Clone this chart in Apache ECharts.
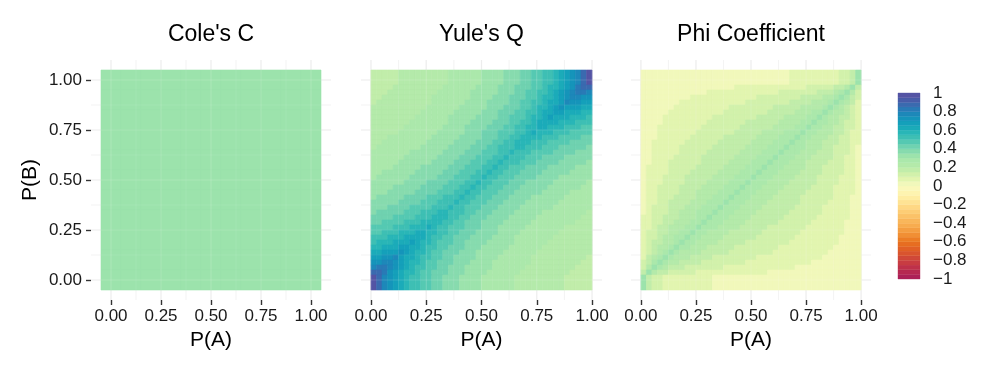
<!DOCTYPE html>
<html><head><meta charset="utf-8">
<script src="https://cdn.jsdelivr.net/npm/echarts@6/dist/echarts.min.js"></script>
<style>html,body{margin:0;padding:0;background:#fff}#c{width:997px;height:382px}</style>
</head><body><div id="c"></div>
<script>
// ---------- data ----------
const panelTitles = ["Cole's C", "Yule's Q", "Phi Coefficient"];
// cell centres (P(A) and P(B)) for Yule's Q and Phi
const pGrid = [0.0125,0.0375,0.0625,0.0875,0.1125,0.1375,0.1625,0.1875,0.2125,0.2375,0.2625,0.2875,0.3125,0.3375,0.3625,0.3875,0.4125,0.4375,0.4625,0.4875,
               0.5125,0.5375,0.5625,0.5875,0.6125,0.6375,0.6625,0.6875,0.7125,0.7375,0.7625,0.7875,0.8125,0.8375,0.8625,0.8875,0.9125,0.9375,0.9625,0.9875];
// cell centres for Cole's C
const coleGrid = [0,0.1,0.2,0.3,0.4,0.5,0.6,0.7,0.8,0.9,1];
// rows listed from top (P(B) high) to bottom (P(B) low); columns P(A) low -> high
const colesC = [
[0.3,0.3,0.3,0.3,0.3,0.3,0.3,0.3,0.3,0.3,0.3],
[0.3,0.3,0.3,0.3,0.3,0.3,0.3,0.3,0.3,0.3,0.3],
[0.3,0.3,0.3,0.3,0.3,0.3,0.3,0.3,0.3,0.3,0.3],
[0.3,0.3,0.3,0.3,0.3,0.3,0.3,0.3,0.3,0.3,0.3],
[0.3,0.3,0.3,0.3,0.3,0.3,0.3,0.3,0.3,0.3,0.3],
[0.3,0.3,0.3,0.3,0.3,0.3,0.3,0.3,0.3,0.3,0.3],
[0.3,0.3,0.3,0.3,0.3,0.3,0.3,0.3,0.3,0.3,0.3],
[0.3,0.3,0.3,0.3,0.3,0.3,0.3,0.3,0.3,0.3,0.3],
[0.3,0.3,0.3,0.3,0.3,0.3,0.3,0.3,0.3,0.3,0.3],
[0.3,0.3,0.3,0.3,0.3,0.3,0.3,0.3,0.3,0.3,0.3],
[0.3,0.3,0.3,0.3,0.3,0.3,0.3,0.3,0.3,0.3,0.3]
];
// values are the lower edge of the 0.05-wide colour band read at each cell
const yulesQ = [
[.15,.15,.15,.15,.15,.20,.20,.20,.20,.20,.20,.20,.20,.20,.25,.25,.25,.25,.25,.25,.30,.30,.30,.30,.35,.35,.35,.40,.40,.45,.45,.50,.50,.55,.60,.65,.70,.75,.85,.95],
[.15,.15,.15,.15,.20,.20,.20,.20,.20,.20,.20,.20,.20,.25,.25,.25,.25,.25,.25,.30,.30,.30,.30,.35,.35,.35,.40,.40,.40,.45,.45,.50,.55,.55,.60,.65,.70,.80,.85,.85],
[.15,.15,.15,.20,.20,.20,.20,.20,.20,.20,.20,.20,.25,.25,.25,.25,.25,.25,.30,.30,.30,.30,.30,.35,.35,.35,.40,.40,.45,.45,.50,.50,.55,.60,.65,.70,.75,.80,.80,.75],
[.15,.15,.20,.20,.20,.20,.20,.20,.20,.20,.20,.25,.25,.25,.25,.25,.25,.25,.30,.30,.30,.30,.35,.35,.35,.40,.40,.40,.45,.45,.50,.55,.55,.60,.65,.70,.75,.75,.70,.70],
[.15,.20,.20,.20,.20,.20,.20,.20,.20,.20,.20,.25,.25,.25,.25,.25,.25,.30,.30,.30,.30,.35,.35,.35,.35,.40,.40,.45,.45,.50,.50,.55,.60,.60,.65,.75,.70,.70,.65,.65],
[.20,.20,.20,.20,.20,.20,.20,.20,.20,.20,.25,.25,.25,.25,.25,.25,.30,.30,.30,.30,.30,.35,.35,.35,.40,.40,.40,.45,.45,.50,.55,.55,.60,.65,.70,.65,.65,.65,.60,.60],
[.20,.20,.20,.20,.20,.20,.20,.20,.20,.25,.25,.25,.25,.25,.25,.30,.30,.30,.30,.30,.35,.35,.35,.40,.40,.40,.45,.45,.50,.50,.55,.60,.60,.65,.65,.60,.60,.60,.55,.55],
[.20,.20,.20,.20,.20,.20,.20,.20,.25,.25,.25,.25,.25,.25,.30,.30,.30,.30,.30,.35,.35,.35,.35,.40,.40,.45,.45,.45,.50,.55,.55,.60,.65,.60,.60,.60,.55,.55,.55,.50],
[.20,.20,.20,.20,.20,.20,.20,.25,.25,.25,.25,.25,.25,.25,.30,.30,.30,.30,.35,.35,.35,.35,.40,.40,.40,.45,.45,.50,.50,.55,.60,.60,.60,.60,.55,.55,.55,.50,.50,.50],
[.20,.20,.20,.20,.20,.20,.25,.25,.25,.25,.25,.25,.25,.30,.30,.30,.30,.35,.35,.35,.35,.40,.40,.40,.45,.45,.50,.50,.55,.55,.60,.60,.55,.55,.55,.50,.50,.50,.45,.45],
[.20,.20,.20,.20,.20,.25,.25,.25,.25,.25,.25,.25,.30,.30,.30,.30,.30,.35,.35,.35,.40,.40,.40,.45,.45,.45,.50,.50,.55,.60,.55,.55,.55,.50,.50,.50,.45,.45,.45,.45],
[.20,.20,.20,.25,.25,.25,.25,.25,.25,.25,.25,.30,.30,.30,.30,.30,.35,.35,.35,.35,.40,.40,.40,.45,.45,.50,.50,.55,.55,.55,.55,.50,.50,.50,.45,.45,.45,.45,.40,.40],
[.20,.20,.25,.25,.25,.25,.25,.25,.25,.25,.30,.30,.30,.30,.30,.35,.35,.35,.35,.40,.40,.40,.45,.45,.50,.50,.55,.55,.55,.50,.50,.50,.45,.45,.45,.45,.40,.40,.40,.40],
[.20,.25,.25,.25,.25,.25,.25,.25,.25,.30,.30,.30,.30,.30,.35,.35,.35,.35,.40,.40,.40,.45,.45,.50,.50,.50,.55,.55,.50,.50,.50,.45,.45,.45,.40,.40,.40,.40,.40,.35],
[.25,.25,.25,.25,.25,.25,.25,.30,.30,.30,.30,.30,.30,.35,.35,.35,.35,.40,.40,.40,.45,.45,.45,.50,.50,.55,.50,.50,.50,.45,.45,.45,.45,.40,.40,.40,.40,.35,.35,.35],
[.25,.25,.25,.25,.25,.25,.30,.30,.30,.30,.30,.30,.35,.35,.35,.35,.40,.40,.40,.45,.45,.45,.50,.50,.55,.50,.50,.50,.45,.45,.45,.40,.40,.40,.40,.35,.35,.35,.35,.35],
[.25,.25,.25,.25,.25,.30,.30,.30,.30,.30,.30,.35,.35,.35,.35,.40,.40,.40,.45,.45,.45,.50,.50,.55,.50,.50,.50,.45,.45,.45,.40,.40,.40,.40,.35,.35,.35,.35,.35,.30],
[.25,.25,.25,.25,.30,.30,.30,.30,.30,.35,.35,.35,.35,.35,.40,.40,.40,.45,.45,.45,.50,.50,.55,.50,.50,.45,.45,.45,.40,.40,.40,.40,.35,.35,.35,.35,.35,.30,.30,.30],
[.25,.25,.30,.30,.30,.30,.30,.30,.35,.35,.35,.35,.35,.40,.40,.40,.45,.45,.45,.50,.50,.55,.50,.50,.45,.45,.45,.40,.40,.40,.40,.35,.35,.35,.35,.35,.30,.30,.30,.30],
[.25,.30,.30,.30,.30,.30,.30,.35,.35,.35,.35,.35,.40,.40,.40,.45,.45,.45,.50,.50,.55,.50,.50,.45,.45,.45,.40,.40,.40,.40,.35,.35,.35,.35,.30,.30,.30,.30,.30,.30],
[.30,.30,.30,.30,.30,.30,.35,.35,.35,.35,.40,.40,.40,.40,.45,.45,.45,.50,.50,.55,.50,.50,.45,.45,.45,.40,.40,.40,.35,.35,.35,.35,.35,.30,.30,.30,.30,.30,.30,.25],
[.30,.30,.30,.30,.35,.35,.35,.35,.35,.40,.40,.40,.40,.45,.45,.45,.50,.50,.55,.50,.50,.45,.45,.45,.40,.40,.40,.35,.35,.35,.35,.35,.30,.30,.30,.30,.30,.30,.25,.25],
[.30,.30,.30,.35,.35,.35,.35,.35,.40,.40,.40,.40,.45,.45,.45,.50,.50,.55,.50,.50,.45,.45,.45,.40,.40,.40,.35,.35,.35,.35,.35,.30,.30,.30,.30,.30,.25,.25,.25,.25],
[.30,.35,.35,.35,.35,.35,.40,.40,.40,.40,.45,.45,.45,.50,.50,.50,.55,.50,.50,.45,.45,.45,.40,.40,.40,.35,.35,.35,.35,.30,.30,.30,.30,.30,.30,.25,.25,.25,.25,.25],
[.35,.35,.35,.35,.35,.40,.40,.40,.40,.45,.45,.45,.50,.50,.50,.55,.50,.50,.45,.45,.45,.40,.40,.40,.35,.35,.35,.35,.30,.30,.30,.30,.30,.30,.25,.25,.25,.25,.25,.25],
[.35,.35,.35,.40,.40,.40,.40,.45,.45,.45,.45,.50,.50,.50,.55,.50,.50,.45,.45,.45,.40,.40,.40,.35,.35,.35,.35,.30,.30,.30,.30,.30,.30,.25,.25,.25,.25,.25,.25,.25],
[.35,.40,.40,.40,.40,.40,.45,.45,.45,.50,.50,.50,.55,.55,.50,.50,.50,.45,.45,.40,.40,.40,.35,.35,.35,.35,.30,.30,.30,.30,.30,.25,.25,.25,.25,.25,.25,.25,.25,.20],
[.40,.40,.40,.40,.45,.45,.45,.45,.50,.50,.50,.55,.55,.55,.50,.50,.45,.45,.40,.40,.40,.35,.35,.35,.35,.30,.30,.30,.30,.30,.25,.25,.25,.25,.25,.25,.25,.25,.20,.20],
[.40,.40,.45,.45,.45,.45,.50,.50,.50,.55,.55,.55,.55,.50,.50,.45,.45,.40,.40,.40,.35,.35,.35,.35,.30,.30,.30,.30,.30,.25,.25,.25,.25,.25,.25,.25,.25,.20,.20,.20],
[.45,.45,.45,.45,.50,.50,.50,.55,.55,.55,.60,.55,.50,.50,.45,.45,.45,.40,.40,.40,.35,.35,.35,.30,.30,.30,.30,.30,.25,.25,.25,.25,.25,.25,.25,.20,.20,.20,.20,.20],
[.45,.45,.50,.50,.50,.55,.55,.55,.60,.60,.55,.55,.50,.50,.45,.45,.40,.40,.40,.35,.35,.35,.35,.30,.30,.30,.30,.25,.25,.25,.25,.25,.25,.25,.20,.20,.20,.20,.20,.20],
[.50,.50,.50,.55,.55,.55,.60,.60,.60,.60,.55,.50,.50,.45,.45,.40,.40,.40,.35,.35,.35,.35,.30,.30,.30,.30,.25,.25,.25,.25,.25,.25,.25,.20,.20,.20,.20,.20,.20,.20],
[.50,.55,.55,.55,.60,.60,.60,.65,.60,.55,.55,.50,.45,.45,.45,.40,.40,.35,.35,.35,.35,.30,.30,.30,.30,.30,.25,.25,.25,.25,.25,.25,.20,.20,.20,.20,.20,.20,.20,.20],
[.55,.55,.60,.60,.60,.65,.65,.60,.60,.55,.50,.50,.45,.45,.40,.40,.40,.35,.35,.35,.30,.30,.30,.30,.30,.25,.25,.25,.25,.25,.25,.20,.20,.20,.20,.20,.20,.20,.20,.20],
[.60,.60,.65,.65,.65,.70,.65,.60,.55,.55,.50,.45,.45,.40,.40,.40,.35,.35,.35,.30,.30,.30,.30,.30,.25,.25,.25,.25,.25,.25,.20,.20,.20,.20,.20,.20,.20,.20,.20,.20],
[.65,.65,.70,.70,.75,.65,.60,.60,.55,.50,.50,.45,.45,.40,.40,.35,.35,.35,.35,.30,.30,.30,.30,.25,.25,.25,.25,.25,.25,.20,.20,.20,.20,.20,.20,.20,.20,.20,.20,.15],
[.70,.70,.75,.75,.70,.65,.60,.55,.55,.50,.45,.45,.40,.40,.40,.35,.35,.35,.30,.30,.30,.30,.25,.25,.25,.25,.25,.25,.25,.20,.20,.20,.20,.20,.20,.20,.20,.20,.15,.15],
[.75,.80,.80,.75,.70,.65,.60,.55,.50,.50,.45,.45,.40,.40,.35,.35,.35,.30,.30,.30,.30,.30,.25,.25,.25,.25,.25,.25,.20,.20,.20,.20,.20,.20,.20,.20,.20,.15,.15,.15],
[.85,.85,.80,.70,.65,.60,.55,.55,.50,.45,.45,.40,.40,.40,.35,.35,.35,.30,.30,.30,.30,.25,.25,.25,.25,.25,.25,.20,.20,.20,.20,.20,.20,.20,.20,.20,.15,.15,.15,.15],
[.95,.85,.75,.70,.65,.60,.55,.50,.50,.45,.45,.40,.40,.35,.35,.35,.30,.30,.30,.30,.25,.25,.25,.25,.25,.25,.20,.20,.20,.20,.20,.20,.20,.20,.20,.15,.15,.15,.15,.15]
];
const phiCoef = [
[0,0,0,0,0,0,0,0,0,0,0,0,0,0,0,0,0,0,0,0,0,0,0,0,0,0,0,.05,.05,.05,.05,.05,.05,.05,.05,.05,.10,.10,.15,.30],
[0,0,0,0,0,0,0,0,0,0,0,0,0,0,0,0,0,.05,.05,.05,.05,.05,.05,.05,.05,.05,.05,.05,.05,.05,.10,.10,.10,.10,.10,.15,.15,.20,.30,.15],
[0,0,0,0,0,0,0,0,0,0,0,0,.05,.05,.05,.05,.05,.05,.05,.05,.05,.05,.05,.05,.05,.10,.10,.10,.10,.10,.10,.10,.15,.15,.15,.20,.25,.30,.20,.10],
[0,0,0,0,0,0,0,0,0,.05,.05,.05,.05,.05,.05,.05,.05,.05,.05,.05,.05,.10,.10,.10,.10,.10,.10,.10,.10,.15,.15,.15,.15,.20,.20,.25,.30,.25,.15,.10],
[0,0,0,0,0,0,0,.05,.05,.05,.05,.05,.05,.05,.05,.05,.05,.05,.05,.10,.10,.10,.10,.10,.10,.10,.10,.15,.15,.15,.15,.20,.20,.20,.25,.30,.25,.20,.15,.05],
[0,0,0,0,0,0,.05,.05,.05,.05,.05,.05,.05,.05,.05,.05,.10,.10,.10,.10,.10,.10,.10,.10,.15,.15,.15,.15,.15,.20,.20,.20,.20,.25,.30,.25,.20,.15,.10,.05],
[0,0,0,0,0,.05,.05,.05,.05,.05,.05,.05,.05,.05,.05,.10,.10,.10,.10,.10,.10,.10,.10,.15,.15,.15,.15,.15,.20,.20,.20,.25,.25,.30,.25,.20,.20,.15,.10,.05],
[0,0,0,0,.05,.05,.05,.05,.05,.05,.05,.05,.05,.10,.10,.10,.10,.10,.10,.10,.10,.15,.15,.15,.15,.15,.20,.20,.20,.20,.25,.25,.30,.25,.20,.20,.15,.15,.10,.05],
[0,0,0,0,.05,.05,.05,.05,.05,.05,.05,.05,.10,.10,.10,.10,.10,.10,.10,.15,.15,.15,.15,.15,.15,.20,.20,.20,.20,.25,.25,.30,.25,.25,.20,.20,.15,.10,.10,.05],
[0,0,0,.05,.05,.05,.05,.05,.05,.05,.05,.10,.10,.10,.10,.10,.10,.10,.15,.15,.15,.15,.15,.15,.20,.20,.20,.20,.25,.25,.30,.25,.25,.20,.20,.15,.15,.10,.10,.05],
[0,0,0,.05,.05,.05,.05,.05,.05,.05,.10,.10,.10,.10,.10,.10,.10,.15,.15,.15,.15,.15,.20,.20,.20,.20,.25,.25,.25,.30,.25,.25,.20,.20,.20,.15,.15,.10,.05,.05],
[0,0,0,.05,.05,.05,.05,.05,.05,.10,.10,.10,.10,.10,.10,.15,.15,.15,.15,.15,.15,.20,.20,.20,.20,.25,.25,.25,.30,.25,.25,.20,.20,.20,.15,.15,.10,.10,.05,.05],
[0,0,.05,.05,.05,.05,.05,.05,.10,.10,.10,.10,.10,.10,.15,.15,.15,.15,.15,.15,.20,.20,.20,.20,.25,.25,.25,.30,.25,.25,.20,.20,.20,.15,.15,.15,.10,.10,.05,.05],
[0,0,.05,.05,.05,.05,.05,.10,.10,.10,.10,.10,.10,.15,.15,.15,.15,.15,.15,.20,.20,.20,.20,.25,.25,.25,.30,.25,.25,.25,.20,.20,.20,.15,.15,.10,.10,.10,.05,0],
[0,0,.05,.05,.05,.05,.05,.10,.10,.10,.10,.10,.15,.15,.15,.15,.15,.15,.20,.20,.20,.20,.25,.25,.25,.30,.25,.25,.25,.20,.20,.20,.15,.15,.15,.10,.10,.10,.05,0],
[0,0,.05,.05,.05,.05,.10,.10,.10,.10,.10,.15,.15,.15,.15,.15,.15,.20,.20,.20,.20,.25,.25,.25,.30,.25,.25,.25,.20,.20,.20,.15,.15,.15,.15,.10,.10,.05,.05,0],
[0,0,.05,.05,.05,.10,.10,.10,.10,.10,.10,.15,.15,.15,.15,.15,.20,.20,.20,.20,.25,.25,.25,.30,.25,.25,.25,.20,.20,.20,.15,.15,.15,.15,.10,.10,.10,.05,.05,0],
[0,.05,.05,.05,.05,.10,.10,.10,.10,.10,.15,.15,.15,.15,.15,.20,.20,.20,.20,.25,.25,.25,.30,.25,.25,.25,.20,.20,.20,.20,.15,.15,.15,.10,.10,.10,.10,.05,.05,0],
[0,.05,.05,.05,.05,.10,.10,.10,.10,.15,.15,.15,.15,.15,.20,.20,.20,.20,.25,.25,.25,.30,.25,.25,.25,.20,.20,.20,.20,.15,.15,.15,.15,.10,.10,.10,.10,.05,.05,0],
[0,.05,.05,.05,.10,.10,.10,.10,.15,.15,.15,.15,.15,.20,.20,.20,.20,.25,.25,.25,.30,.25,.25,.25,.20,.20,.20,.20,.15,.15,.15,.15,.10,.10,.10,.10,.05,.05,.05,0],
[0,.05,.05,.05,.10,.10,.10,.10,.15,.15,.15,.15,.20,.20,.20,.20,.25,.25,.25,.30,.25,.25,.25,.20,.20,.20,.20,.15,.15,.15,.15,.15,.10,.10,.10,.10,.05,.05,.05,0],
[0,.05,.05,.10,.10,.10,.10,.15,.15,.15,.15,.20,.20,.20,.20,.25,.25,.25,.30,.25,.25,.25,.20,.20,.20,.20,.15,.15,.15,.15,.15,.10,.10,.10,.10,.05,.05,.05,.05,0],
[0,.05,.05,.10,.10,.10,.10,.15,.15,.15,.20,.20,.20,.20,.25,.25,.25,.30,.25,.25,.25,.20,.20,.20,.20,.15,.15,.15,.15,.15,.10,.10,.10,.10,.10,.05,.05,.05,.05,0],
[0,.05,.05,.10,.10,.10,.15,.15,.15,.15,.20,.20,.20,.25,.25,.25,.30,.25,.25,.25,.20,.20,.20,.20,.15,.15,.15,.15,.15,.10,.10,.10,.10,.10,.10,.05,.05,.05,0,0],
[0,.05,.05,.10,.10,.15,.15,.15,.15,.20,.20,.20,.25,.25,.25,.30,.25,.25,.25,.20,.20,.20,.20,.15,.15,.15,.15,.15,.15,.10,.10,.10,.10,.10,.05,.05,.05,.05,0,0],
[0,.05,.10,.10,.10,.15,.15,.15,.20,.20,.20,.25,.25,.25,.30,.25,.25,.25,.20,.20,.20,.20,.15,.15,.15,.15,.15,.15,.10,.10,.10,.10,.10,.05,.05,.05,.05,.05,0,0],
[0,.05,.10,.10,.10,.15,.15,.20,.20,.20,.25,.25,.25,.30,.25,.25,.25,.20,.20,.20,.20,.15,.15,.15,.15,.15,.15,.10,.10,.10,.10,.10,.10,.05,.05,.05,.05,.05,0,0],
[.05,.05,.10,.10,.15,.15,.15,.20,.20,.20,.25,.25,.30,.25,.25,.25,.20,.20,.20,.20,.15,.15,.15,.15,.15,.15,.10,.10,.10,.10,.10,.10,.05,.05,.05,.05,.05,.05,0,0],
[.05,.05,.10,.10,.15,.15,.20,.20,.20,.25,.25,.30,.25,.25,.25,.20,.20,.20,.20,.15,.15,.15,.15,.15,.15,.10,.10,.10,.10,.10,.10,.05,.05,.05,.05,.05,.05,0,0,0],
[.05,.05,.10,.15,.15,.20,.20,.20,.25,.25,.30,.25,.25,.25,.20,.20,.20,.20,.15,.15,.15,.15,.15,.10,.10,.10,.10,.10,.10,.10,.05,.05,.05,.05,.05,.05,.05,0,0,0],
[.05,.10,.10,.15,.15,.20,.20,.25,.25,.30,.25,.25,.20,.20,.20,.20,.15,.15,.15,.15,.15,.15,.10,.10,.10,.10,.10,.10,.10,.05,.05,.05,.05,.05,.05,.05,.05,0,0,0],
[.05,.10,.10,.15,.20,.20,.25,.25,.30,.25,.25,.20,.20,.20,.20,.15,.15,.15,.15,.15,.15,.10,.10,.10,.10,.10,.10,.10,.05,.05,.05,.05,.05,.05,.05,.05,0,0,0,0],
[.05,.10,.15,.15,.20,.20,.25,.30,.25,.25,.20,.20,.20,.20,.15,.15,.15,.15,.15,.10,.10,.10,.10,.10,.10,.10,.10,.05,.05,.05,.05,.05,.05,.05,.05,.05,0,0,0,0],
[.05,.10,.15,.20,.20,.25,.30,.25,.25,.20,.20,.20,.15,.15,.15,.15,.15,.10,.10,.10,.10,.10,.10,.10,.10,.05,.05,.05,.05,.05,.05,.05,.05,.05,.05,0,0,0,0,0],
[.05,.10,.15,.20,.25,.30,.25,.20,.20,.20,.20,.15,.15,.15,.15,.15,.10,.10,.10,.10,.10,.10,.10,.10,.05,.05,.05,.05,.05,.05,.05,.05,.05,.05,0,0,0,0,0,0],
[.05,.15,.20,.25,.30,.25,.20,.20,.20,.15,.15,.15,.15,.10,.10,.10,.10,.10,.10,.10,.10,.05,.05,.05,.05,.05,.05,.05,.05,.05,.05,.05,.05,0,0,0,0,0,0,0],
[.10,.15,.25,.30,.25,.20,.20,.15,.15,.15,.15,.10,.10,.10,.10,.10,.10,.10,.10,.05,.05,.05,.05,.05,.05,.05,.05,.05,.05,.05,.05,0,0,0,0,0,0,0,0,0],
[.10,.20,.30,.25,.20,.15,.15,.15,.10,.10,.10,.10,.10,.10,.10,.05,.05,.05,.05,.05,.05,.05,.05,.05,.05,.05,.05,.05,0,0,0,0,0,0,0,0,0,0,0,0],
[.15,.30,.20,.15,.15,.10,.10,.10,.10,.10,.05,.05,.05,.05,.05,.05,.05,.05,.05,.05,.05,.05,.05,0,0,0,0,0,0,0,0,0,0,0,0,0,0,0,0,0],
[.30,.15,.10,.10,.05,.05,.05,.05,.05,.05,.05,.05,.05,0,0,0,0,0,0,0,0,0,0,0,0,0,0,0,0,0,0,0,0,0,0,0,0,0,0,0]
];
const axisTicks = [0, 0.25, 0.5, 0.75, 1];
const axisTickLabels = ['0.00', '0.25', '0.50', '0.75', '1.00'];
const minorBreaks = [0.125, 0.375, 0.625, 0.875];
// lower edges of the 0.05-wide bins of the colour bar
const legendBins = [-1,-0.95,-0.9,-0.85,-0.8,-0.75,-0.7,-0.65,-0.6,-0.55,-0.5,-0.45,-0.4,-0.35,-0.3,-0.25,-0.2,-0.15,-0.1,-0.05,
                    0,0.05,0.1,0.15,0.2,0.25,0.3,0.35,0.4,0.45,0.5,0.55,0.6,0.65,0.7,0.75,0.8,0.85,0.9,0.95];
const legendTickValues = [-1,-0.8,-0.6,-0.4,-0.2,0,0.2,0.4,0.6,0.8,1];
const legendTickLabels = ['\u22121','\u22120.8','\u22120.6','\u22120.4','\u22120.2','0','0.2','0.4','0.6','0.8','1'];

// ---------- styles / layout ----------
// colours at -1, -0.9, ..., 0.9, 1
const colorStops = ['#a81c5a','#ba2c4e','#cc423e','#de5a28','#ea741e','#f3983c','#f8b255','#fcc86e','#fede8c','#fef2aa',
                    '#f9fac0','#daf3ab','#b8eba9','#a6e7ab','#7cd7af','#48c4b3','#1eb1b8','#119aba','#2182b9','#4262ac','#5a4fa1'];
const BIN = 0.05;
const FONT = "'Liberation Sans', Arial, Helvetica, sans-serif";
const panels = [
  {left: 91, width: 240, xmin: -0.1, xmax: 1.1},
  {left: 361, width: 241, xmin: -0.045, xmax: 1.045},
  {left: 631, width: 240, xmin: -0.045, xmax: 1.045}
];
const TOP = 60, H = 240, YMIN = -0.1, YMAX = 1.1;

function toCells(rows, xs, ys) {
  const out = [];
  const n = rows.length;
  rows.forEach((row, r) => {
    row.forEach((v, c) => out.push([xs[c], ys[n - 1 - r], v]));
  });
  return out;
}
const cellSets = [
  toCells(colesC, coleGrid, coleGrid),
  toCells(yulesQ, pGrid, pGrid),
  toCells(phiCoef, pGrid, pGrid)
];
const cellHalf = [0.05, 0.0125, 0.0125];
const yEdge = [[coleGrid[0], coleGrid[coleGrid.length-1]], [pGrid[0], pGrid[pGrid.length-1]], [pGrid[0], pGrid[pGrid.length-1]]];

const gridLineData = [].concat(
  axisTicks.map(v => [v, 0]), minorBreaks.map(v => [v, 1]),
  axisTicks.map(v => [v, 2]), minorBreaks.map(v => [v, 3])
);

function gridLineRender(color, majorW, minorW) {
  return function (params, api) {
    const cs = params.coordSys;
    const v = api.value(0), kind = api.value(1);
    const w = (kind === 0 || kind === 2) ? majorW : minorW;
    let shape;
    if (kind < 2) {
      const x = api.coord([v, 0])[0];
      shape = {x1: x, y1: cs.y, x2: x, y2: cs.y + cs.height};
    } else {
      const y = api.coord([0, v])[1];
      shape = {x1: cs.x, y1: y, x2: cs.x + cs.width, y2: y};
    }
    return {type: 'line', shape, style: {stroke: color, lineWidth: w}};
  };
}
function cellRender(k) {
  const h = cellHalf[k];
  return function (params, api) {
    const x = api.value(0), y = api.value(1);
    const y0 = (y === yEdge[k][0]) ? -0.05 : y - h;
    const y1 = (y === yEdge[k][1]) ? 1.05 : y + h;
    const p0 = api.coord([x - h, y0]);
    const p1 = api.coord([x + h, y1]);
    const col = api.visual('color');
    return {type: 'rect',
      shape: {x: Math.min(p0[0], p1[0]), y: Math.min(p0[1], p1[1]), width: Math.abs(p1[0]-p0[0]), height: Math.abs(p1[1]-p0[1])},
      style: {fill: col, stroke: col, lineWidth: 0.6}};
  };
}
function legendRender(params, api) {
  const v = api.value(1);
  const p0 = api.coord([0, v]), p1 = api.coord([1, v + BIN]);
  const col = api.visual('color');
  return {type: 'rect', shape: {x: p0[0], y: p1[1], width: p1[0]-p0[0], height: p0[1]-p1[1]},
    style: {fill: col, stroke: col, lineWidth: 0.4}};
}
function lookup(vals, labels) {
  return function (v) {
    for (let i = 0; i < vals.length; i++) if (Math.abs(vals[i] - v) < 1e-6) return labels[i];
    return '';
  };
}

const grids = panels.map(p => ({left: p.left, top: TOP, width: p.width, height: H}));
grids.push({left: 898, top: 93, width: 22, height: 186});

const xAxes = panels.map((p, k) => ({
  type: 'value', gridIndex: k, min: p.xmin, max: p.xmax,
  axisLine: {show: false, onZero: false}, splitLine: {show: false},
  axisTick: {show: true, customValues: axisTicks, length: 5, lineStyle: {color: '#333', width: 1.4}},
  axisLabel: {show: true, customValues: axisTicks, formatter: lookup(axisTicks, axisTickLabels), margin: 8,
    fontSize: 17, color: '#1a1a1a', fontFamily: FONT},
  name: 'P(A)', nameLocation: 'middle', nameGap: 30,
  nameTextStyle: {fontSize: 21, color: '#000', fontFamily: FONT}
}));
xAxes.push({type: 'value', gridIndex: 3, min: 0, max: 1, show: false});

const yAxes = panels.map((p, k) => ({
  type: 'value', gridIndex: k, min: YMIN, max: YMAX,
  axisLine: {show: false, onZero: false}, splitLine: {show: false},
  axisTick: {show: k === 0, customValues: axisTicks, length: 5, lineStyle: {color: '#333', width: 1.4}},
  axisLabel: {show: k === 0, customValues: axisTicks, formatter: lookup(axisTicks, axisTickLabels), margin: 9,
    fontSize: 17, color: '#1a1a1a', fontFamily: FONT},
  name: k === 0 ? 'P(B)' : '', nameLocation: 'middle', nameGap: 50,
  nameTextStyle: {fontSize: 21, color: '#000', fontFamily: FONT}
}));
yAxes.push({type: 'value', gridIndex: 3, min: -1, max: 1, interval: 0.2, position: 'right',
  axisLine: {show: false}, axisTick: {show: false}, splitLine: {show: false},
  axisLabel: {margin: 13, fontSize: 17, color: '#1a1a1a', fontFamily: FONT,
    formatter: lookup(legendTickValues, legendTickLabels)}});

const series = [];
panels.forEach((p, k) => series.push({type: 'custom', xAxisIndex: k, yAxisIndex: k, z: 1, silent: true, clip: false,
  renderItem: gridLineRender('#ebebeb', 1.2, 0.6), data: gridLineData}));
panels.forEach((p, k) => series.push({type: 'custom', xAxisIndex: k, yAxisIndex: k, z: 2, silent: true, clip: false,
  encode: {x: 0, y: 1}, renderItem: cellRender(k), data: cellSets[k]}));
panels.forEach((p, k) => series.push({type: 'custom', xAxisIndex: k, yAxisIndex: k, z: 3, silent: true, clip: true,
  renderItem: gridLineRender('rgba(255,255,255,0.14)', 1.2, 0.6), data: gridLineData}));
series.push({type: 'custom', xAxisIndex: 3, yAxisIndex: 3, z: 2, silent: true,
  encode: {x: 0, y: 1}, renderItem: legendRender, data: legendBins.map(v => [0.5, v, v])});

const chart = echarts.init(document.getElementById('c'), null, {renderer: 'canvas'});
chart.setOption({
  animation: false,
  backgroundColor: '#fff',
  grid: grids,
  xAxis: xAxes,
  yAxis: yAxes,
  // each band is painted with the colour at its middle (band lower edge + BIN/2)
  visualMap: [{type: 'continuous', show: false, min: -1 - BIN / 2, max: 1 - BIN / 2, dimension: 2,
    seriesIndex: [3, 4, 5, 9], inRange: {color: colorStops}}],
  graphic: panelTitles.map((t, k) => ({type: 'text', x: panels[k].left + panels[k].width / 2, y: 35,
    style: {text: t, fill: '#000', font: '23px ' + FONT, align: 'center', verticalAlign: 'middle',
      textAlign: 'center', textVerticalAlign: 'middle'}})),
  series: series
});
</script></body></html>
